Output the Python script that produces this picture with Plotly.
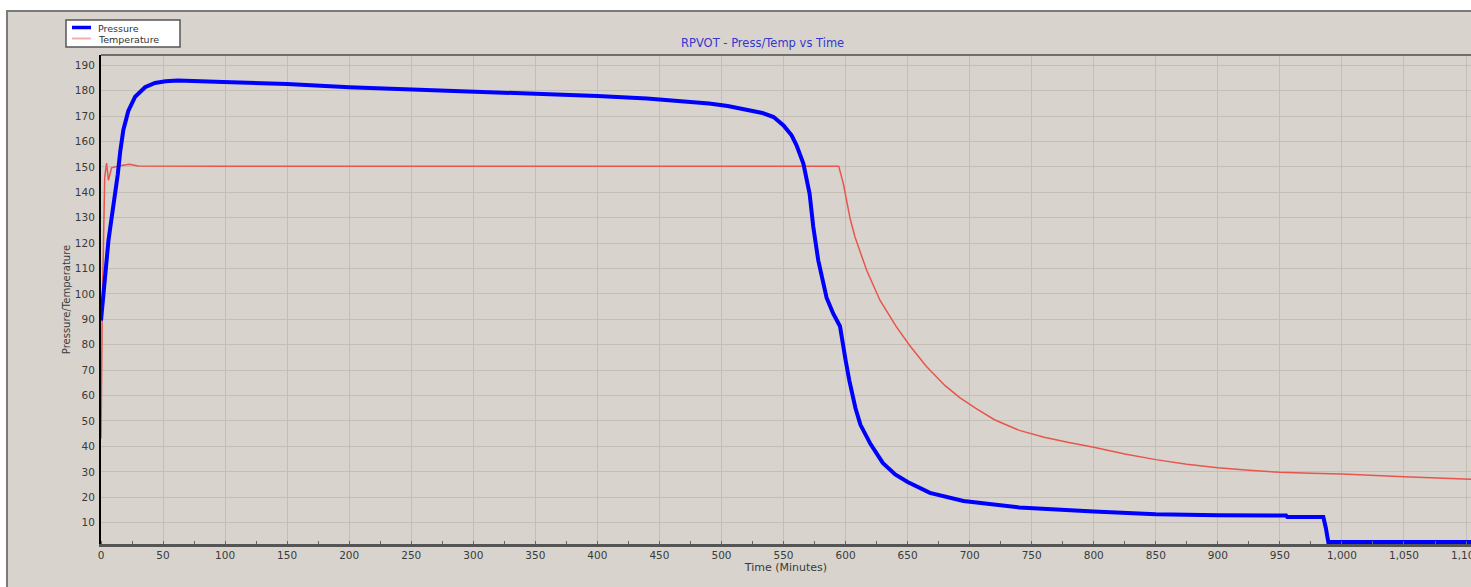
import plotly.graph_objects as go

# ---- data ----
p_time = [0, 1, 2, 3, 4.5, 6, 8, 11.3, 13.5, 15.5, 18, 22, 27.5, 35.5, 43.5, 52, 62, 92, 150, 200,
          250, 300, 350, 400, 440, 470, 490, 505, 520, 533, 542, 550, 556.5, 560.5, 566, 571, 574,
          578, 584.7, 590, 595.5, 598, 600, 603, 605, 608, 612, 620, 630, 640, 650, 668, 695, 740,
          800, 850, 900, 955, 956, 985, 987, 988, 989, 1104]
pressure = [89.5, 95, 100, 108, 114, 121, 128, 138, 147, 156, 164.5, 172, 177.6, 181.3, 183, 183.7,
            184, 183.5, 182.6, 181.3, 180.5, 179.8, 178.9, 177.9, 176.9, 175.9, 174.9, 173.9, 172.6,
            171.2, 169.6, 166.3, 162.4, 158.5, 151.3, 139.5, 126.3, 113.2, 98.5, 92.3, 87.3, 81,
            74, 66, 61, 55, 48.5, 41, 33.5, 29, 26, 21.7, 18.5, 16, 14.4, 13.3, 12.9, 12.8, 12.2,
            12.2, 8, 4, 2.4, 2.4]

t_time = [0, 0.5, 1, 2, 3, 4.5, 6, 8.5, 15, 23, 30, 100, 594.5, 598.2, 601, 603.5, 607.6, 617,
          627.7, 641, 652, 665, 680, 692, 705, 720, 740, 760, 780, 800, 825, 850, 875, 900, 925,
          950, 975, 1000, 1050, 1080, 1104]
temperature = [43, 80, 93, 120, 146, 151.5, 144.7, 149.6, 150.4, 151, 150.3, 150.2, 150.2, 143.4,
               135.5, 130, 122.4, 109.3, 97.5, 87, 79.5, 71.5, 64, 59.2, 55, 50.5, 46.3, 43.6,
               41.5, 39.7, 37, 34.8, 33, 31.6, 30.6, 29.8, 29.4, 29.1, 28.1, 27.4, 27.1]

x_ticks = list(range(0, 1101, 50))
y_ticks = list(range(10, 191, 10))

title_text = "RPVOT - Press/Temp vs Time"
x_title = "Time (Minutes)"
y_title = "Pressure/Temperature"
series_names = ["Pressure", "Temperature"]

BG = "#D8D4CD"
GRID = "#C3BFB7"
BLUE = "#0000FF"
RED = "#E8554C"
FONT = "DejaVu Sans"

W, H = 1471, 587
L, R, T, B = 101, 0, 55, 43
pw, ph = W - L - R, H - T - B


def px(xp):
    return (xp - L) / pw


def py(yp):
    return (H - B - yp) / ph


fig = go.Figure()
fig.add_trace(go.Scatter(x=t_time, y=temperature, mode="lines", name=series_names[1],
                         line=dict(color=RED, width=1.5)))
fig.add_trace(go.Scatter(x=p_time, y=pressure, mode="lines", name=series_names[0],
                         line=dict(color=BLUE, width=4)))

shapes = [
    # outer frame
    dict(type="rect", xref="paper", yref="paper", x0=px(7), x1=px(1480), y0=py(11), y1=py(600),
         fillcolor=BG, line=dict(color="#7A7A7A", width=2), layer="below"),
    # plot top border
    dict(type="line", xref="paper", yref="paper", x0=0, x1=1, y0=1, y1=1,
         line=dict(color="#6E6E6E", width=2)),
    # legend box
    dict(type="rect", xref="paper", yref="paper", x0=px(66), x1=px(180), y0=py(20), y1=py(47),
         fillcolor="white", line=dict(color="#555555", width=1.5)),
    dict(type="line", xref="paper", yref="paper", x0=px(72), x1=px(91), y0=py(27.5), y1=py(27.5),
         line=dict(color=BLUE, width=3.5)),
    dict(type="line", xref="paper", yref="paper", x0=px(72), x1=px(91), y0=py(38.5), y1=py(38.5),
         line=dict(color="#F2B0A8", width=2)),
]

annotations = [
    dict(text=title_text, xref="paper", yref="paper", x=px(762), y=py(43), showarrow=False,
         xanchor="center", yanchor="middle", font=dict(family=FONT, size=11.5, color="#3535D0")),
    dict(text=series_names[0], xref="paper", yref="paper", x=px(96), y=py(28), showarrow=False,
         xanchor="left", yanchor="middle", font=dict(family=FONT, size=9.5, color="#333333")),
    dict(text=series_names[1], xref="paper", yref="paper", x=px(96), y=py(39.5), showarrow=False,
         xanchor="left", yanchor="middle", font=dict(family=FONT, size=9.5, color="#333333")),
]

fig.update_layout(
    width=W, height=H,
    margin=dict(l=L, r=R, t=T, b=B, pad=0, autoexpand=False),
    paper_bgcolor="white",
    plot_bgcolor="rgba(0,0,0,0)",
    showlegend=False,
    shapes=shapes,
    annotations=annotations,
    font=dict(family=FONT, size=11, color="#3A3A3A"),
)

fig.update_xaxes(
    range=[0, 1104], tickvals=x_ticks, tickformat=",", showgrid=True, gridcolor=GRID, gridwidth=1,
    zeroline=False, showline=True, linecolor="#555555", linewidth=2.5, ticks="",
    ticklabelstandoff=0, ticklabeloverflow="allow", automargin=False,
    minor=dict(dtick=25, tick0=0, ticks="inside", ticklen=3, tickcolor="#666666", showgrid=False),
    title=dict(text=x_title, font=dict(family=FONT, size=11, color="#3A3A3A"), standoff=0),
    tickfont=dict(family=FONT, size=10.5, color="#3A3A3A"),
)
fig.update_yaxes(
    range=[1.6, 194], tickvals=y_ticks, showgrid=True, gridcolor=GRID, gridwidth=1,
    zeroline=False, showline=True, linecolor="#000000", linewidth=2, ticks="",
    ticklabelstandoff=2, automargin=False,
    title=dict(text=y_title, font=dict(family=FONT, size=10, color="#3A3A3A"), standoff=2),
    tickfont=dict(family=FONT, size=10.5, color="#3A3A3A"),
)

fig.write_html("out.html", config={"displayModeBar": False},
               post_script="document.body.style.margin='0px';")
